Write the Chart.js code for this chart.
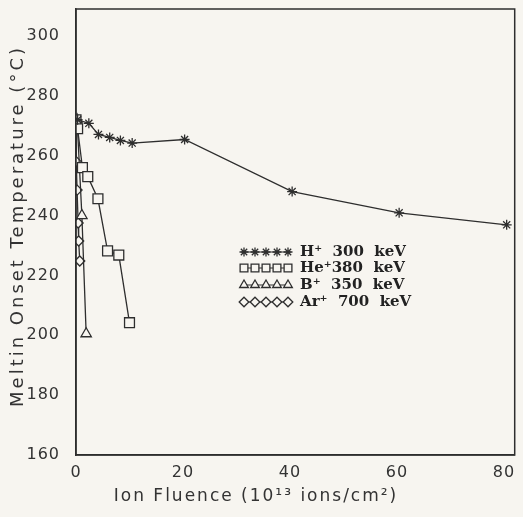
<!DOCTYPE html>
<html>
<head>
<meta charset="utf-8">
<script src="https://cdn.jsdelivr.net/npm/chart.js@4.4.1/dist/chart.umd.min.js"></script>
<style>
  html, body { margin: 0; padding: 0; background: #f7f5f0; overflow: hidden; }
  #wrap { width: 523px; height: 517px; }
  canvas { display: block; }
</style>
</head>
<body>
<div id="wrap"><canvas id="grafico"></canvas></div>
<script>
// valores
const hX = [0.3, 2.4, 4.2, 6.3, 8.3, 10.5, 20.3, 40.4, 60.4, 80.5];
const hY = [272, 270.8, 267.1, 266.1, 265.1, 264.2, 265.4, 248, 240.9, 236.9];

const heX = [0, 0.3, 1.2, 2.2, 4.1, 5.9, 8.0, 10.0];
const heY = [272, 269, 256, 253, 245.6, 228.2, 226.8, 204.2];

const bX = [0.2, 1.1, 1.9];
const bY = [272, 240, 200.5];

const arX = [0, 0.05, 0.2, 0.4, 0.5, 0.7];
const arY = [272, 258, 248.5, 237.5, 231.5, 224.8];

const legendLabels = ["H\u207A  300  keV", "He\u207A380  keV", "B\u207A  350  keV", "Ar\u207A  700  keV"];

const xTicks = [0, 20, 40, 60, 80];
const yTicks = [160, 180, 200, 220, 240, 260, 280, 300];

const xTitulo = "Ion Fluence (10\u00B9\u00B3 ions/cm\u00B2)";
const yTitulo = "Meltin Onset Temperature (\u00B0C)";

function pontos(xs, ys) {
    return xs.map((x, i) => ({ x: x, y: ys[i] }));
}

const cor = "#2e2e2e";
const papel = "#f7f5f0";

const series = [
    { label: legendLabels[0], data: pontos(hX, hY), pointStyle: "star", pointRadius: 5, legRadius: 4.5 },
    { label: legendLabels[1], data: pontos(heX, heY), pointStyle: "rect", pointRadius: 7, legRadius: 5.5 },
    { label: legendLabels[2], data: pontos(bX, bY), pointStyle: "triangle", pointRadius: 6, legRadius: 5 },
    { label: legendLabels[3], data: pontos(arX, arY), pointStyle: "rectRot", pointRadius: 5, legRadius: 4.8 }
];

// fundo do papel
const fundo = {
    id: "fundo",
    beforeDraw(chart) {
        const ctx = chart.ctx;
        ctx.save();
        ctx.fillStyle = papel;
        ctx.fillRect(0, 0, chart.width, chart.height);
        ctx.restore();
        ctx.letterSpacing = "1px";
    }
};

// moldura, titulos dos eixos e legenda desenhada a mao
const moldura = {
    id: "moldura",
    afterDraw(chart) {
        const ctx = chart.ctx;
        const a = chart.chartArea;
        ctx.save();
        ctx.strokeStyle = cor;
        ctx.lineWidth = 1.5;
        ctx.strokeRect(a.left, a.top, a.right - a.left, a.bottom - a.top);

        // titulos com espacamento entre letras
        ctx.fillStyle = "#333";
        ctx.textAlign = "center";
        ctx.textBaseline = "middle";
        ctx.font = "17px 'DejaVu Sans'";
        ctx.letterSpacing = "2px";
        ctx.fillText(xTitulo, 256, 497);

        ctx.save();
        ctx.translate(18, 226);
        ctx.rotate(-Math.PI / 2);
        ctx.font = "18px 'DejaVu Sans'";
        ctx.letterSpacing = "3px";
        ctx.fillText(yTitulo, 0, 0);
        ctx.restore();
        ctx.letterSpacing = "0px";
        ctx.textAlign = "left";

        const rows = [252, 268, 285, 302];
        chart.data.datasets.forEach((ds, i) => {
            const y = rows[i];
            ctx.strokeStyle = cor;
            ctx.lineWidth = 1.2;
            ctx.beginPath();
            ctx.moveTo(241, y);
            ctx.lineTo(291, y);
            ctx.stroke();
            for (let k = 0; k < 5; k++) {
                ctx.fillStyle = ds.pointStyle === "star" ? cor : papel;
                ctx.strokeStyle = cor;
                ctx.lineWidth = 1.3;
                Chart.helpers.drawPoint(ctx, {
                    pointStyle: ds.pointStyle,
                    radius: ds.legRadius,
                    rotation: 0,
                    borderWidth: 1.3
                }, 244 + k * 11, y);
            }
            ctx.fillStyle = "#222";
            ctx.font = "bold 15px 'DejaVu Serif'";
            ctx.textBaseline = "middle";
            ctx.fillText(ds.label, 300, y);
        });
        ctx.restore();
    }
};

const ctxGrafico = document.getElementById("grafico");
new Chart(ctxGrafico, {
    type: "scatter",
    data: {
        datasets: series.map((s) => ({
            label: s.label,
            data: s.data,
            showLine: true,
            borderColor: cor,
            borderWidth: 1.3,
            pointStyle: s.pointStyle,
            pointRadius: s.pointRadius,
            pointBorderWidth: 1.3,
            pointBorderColor: cor,
            pointBackgroundColor: s.pointStyle === "star" ? cor : papel,
            legRadius: s.legRadius
        }))
    },
    options: {
        responsive: true,
        maintainAspectRatio: false,
        animation: false,
        layout: { padding: { top: 9, right: 1, left: 0, bottom: 0 } },
        plugins: {
            legend: { display: false },
            tooltip: { enabled: false }
        },
        scales: {
            x: {
                type: "linear",
                min: 0,
                max: 82,
                grid: { display: false, drawOnChartArea: false, tickLength: 7, color: cor },
                border: { display: true, color: cor, width: 1.5 },
                ticks: {
                    stepSize: 10,
                    includeBounds: false,
                    autoSkip: false,
                    maxRotation: 0,
                    color: "#333",
                    font: { family: "'DejaVu Sans'", size: 16 },
                    padding: 1,
                    callback: (v) => xTicks.includes(v) ? String(v) : ""
                },
                title: { display: false },
                afterFit: (s) => { s.height = 62; s.paddingRight = 0; s.paddingLeft = 0; }
            },
            y: {
                min: 160,
                max: 309,
                grid: { display: false, drawOnChartArea: false, tickLength: 10, color: cor },
                border: { display: true, color: cor, width: 1.5 },
                ticks: {
                    stepSize: 20,
                    includeBounds: false,
                    color: "#333",
                    font: { family: "'DejaVu Sans'", size: 16 },
                    padding: 6,
                    callback: (v) => yTicks.includes(v) ? String(v) : ""
                },
                title: { display: false },
                afterFit: (s) => { s.width = 76; s.paddingTop = 0; s.paddingBottom = 0; }
            }
        }
    },
    plugins: [fundo, moldura]
});
</script>
</body>
</html>
